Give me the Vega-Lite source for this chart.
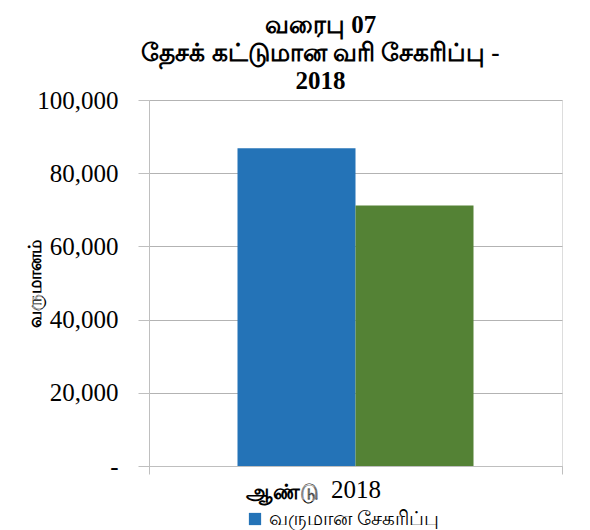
{
  "$schema": "https://vega.github.io/schema/vega-lite/v6.json",
  "autosize": {"type": "none"},
  "padding": {"left": 149, "top": 100, "right": 28, "bottom": 64},
  "width": 413,
  "height": 366,
  "background": "white",
  "title": {
    "text": ["வரைபு 07", "தேசக் கட்டுமான வரி சேகரிப்பு -", "2018"],
    "font": "Liberation Serif",
    "fontSize": 25,
    "fontWeight": "bold",
    "lineHeight": 28,
    "color": "#000000",
    "anchor": "middle",
    "frame": "group",
    "dx": -35,
    "offset": -6
  },
  "data": {
    "values": [
      {"year": "2018", "series": "வருமான சேகரிப்பு", "value": 86800},
      {"year": "2018", "series": "இலக்கு", "value": 71200}
    ]
  },
  "mark": {"type": "bar"},
  "encoding": {
    "x": {
      "field": "year",
      "type": "nominal",
      "scale": {"paddingInner": 0, "paddingOuter": 0},
      "axis": {
        "title": "ஆண்டு",
        "titleFont": "Noto Sans",
        "titleFontSize": 21,
        "titleFontWeight": "bold",
        "titleColor": "#000000",
        "titleX": 96,
        "titleY": 32,
        "titleAlign": "left",
        "titleBaseline": "alphabetic",
        "labelFont": "Liberation Serif",
        "labelFontSize": 25,
        "labelColor": "#000000",
        "labelAngle": 0,
        "labelDx": -4,
        "labelPadding": 3,
        "tickBand": "extent",
        "ticks": true,
        "tickSize": 8,
        "tickColor": "#bfbfbf",
        "domainColor": "#bfbfbf",
        "grid": false
      }
    },
    "xOffset": {
      "field": "series",
      "type": "nominal",
      "sort": ["வருமான சேகரிப்பு", "இலக்கு"],
      "scale": {"paddingInner": 0, "paddingOuter": 0.75}
    },
    "y": {
      "field": "value",
      "type": "quantitative",
      "scale": {"domain": [0, 100000], "nice": false},
      "axis": {
        "title": "வருமானம்",
        "titleFont": "Noto Sans",
        "titleFontSize": 18,
        "titleFontWeight": "bold",
        "titleColor": "#000000",
        "titleAngle": -90,
        "titleX": -114,
        "titleY": 183,
        "titleAlign": "center",
        "titleBaseline": "middle",
        "values": [0, 20000, 40000, 60000, 80000, 100000],
        "labelExpr": "datum.value === 0 ? '-' : format(datum.value, ',')",
        "labelFont": "Liberation Serif",
        "labelFontSize": 25,
        "labelColor": "#000000",
        "labelPadding": 20,
        "tickSize": 11,
        "tickColor": "#bfbfbf",
        "domainColor": "#bfbfbf",
        "gridColor": "#b3b3b3",
        "gridWidth": 1
      }
    },
    "color": {
      "field": "series",
      "type": "nominal",
      "scale": {"domain": ["வருமான சேகரிப்பு", "இலக்கு"], "range": ["#2473b7", "#548235"]},
      "legend": {
        "values": ["வருமான சேகரிப்பு"],
        "orient": "none",
        "legendX": 96,
        "legendY": 409,
        "title": null,
        "symbolType": "square",
        "symbolSize": 150,
        "symbolOpacity": 1,
        "symbolStrokeWidth": 0,
        "labelFont": "Noto Sans",
        "labelFontSize": 20,
        "labelLimit": 0,
        "labelColor": "#000000",
        "labelOffset": 4
      }
    }
  }
}
